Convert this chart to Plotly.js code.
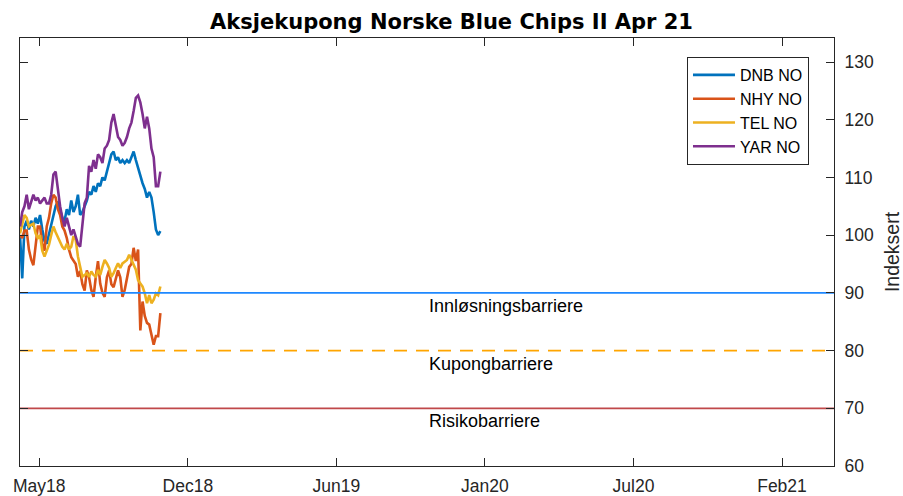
<!DOCTYPE html>
<html>
<head>
<meta charset="utf-8">
<script src="https://cdn.plot.ly/plotly-3.0.1.min.js"></script>
<style>html,body{margin:0;padding:0;background:#fff;}#chart{width:903px;height:496px;}</style>
</head>
<body>
<div id="chart"></div>
<script>
const dates = [
 '2018-04-20','2018-04-23','2018-04-26','2018-04-29','2018-05-02','2018-05-05','2018-05-08','2018-05-11','2018-05-14','2018-05-17',
 '2018-05-20','2018-05-23','2018-05-26','2018-05-29','2018-06-01','2018-06-04','2018-06-07','2018-06-10','2018-06-13','2018-06-16',
 '2018-06-19','2018-06-22','2018-06-25','2018-06-28','2018-07-01','2018-07-04','2018-07-07','2018-07-10','2018-07-13','2018-07-16',
 '2018-07-19','2018-07-22','2018-07-25','2018-07-28','2018-07-31','2018-08-03','2018-08-06','2018-08-09','2018-08-12','2018-08-15',
 '2018-08-18','2018-08-21','2018-08-24','2018-08-27','2018-08-30','2018-09-02','2018-09-05','2018-09-08','2018-09-11','2018-09-14',
 '2018-09-17','2018-09-20','2018-09-23','2018-09-26','2018-09-29','2018-10-02','2018-10-05','2018-10-08','2018-10-11','2018-10-14',
 '2018-10-17','2018-10-20','2018-10-23','2018-10-26'
];
const dnb = [
 100.0, 92.5, 101.5, 102.5, 101.0, 102.5, 101.5, 103.0, 102.0, 103.5,
 101.0, 99.0, 98.5, 100.0, 102.0, 103.5, 105.0, 105.8, 104.5, 103.0,
 102.5, 104.5, 103.5, 106.0, 104.0, 105.0, 107.0, 103.5, 104.0, 105.0,
 106.0, 107.5, 107.0, 108.5, 107.5, 109.0, 108.5, 110.0, 109.5, 111.0,
 112.5, 114.0, 114.5, 113.0, 113.5, 112.5, 113.0, 112.5, 113.0, 112.5,
 113.5, 114.5, 113.0, 111.5, 110.0, 109.0, 108.0, 106.5, 107.5, 106.5,
 104.0, 101.0, 100.0, 100.7
];
const nhy = [
 100.0, 99.5, 100.8, 100.8, 97.5, 95.8, 94.8, 98.5, 101.5, 101.5,
 98.5, 97.3, 101.5, 103.0, 105.5, 107.0, 106.5, 104.5, 103.5, 101.5,
 100.8, 99.5, 97.5, 96.2, 95.5, 95.0, 92.8, 93.8, 91.5, 90.4,
 93.9, 92.7, 90.5, 89.3, 92.7, 95.5, 91.6, 90.0, 89.3, 92.7,
 93.9, 91.5, 91.0, 92.7, 93.9, 92.7, 89.3, 90.5, 92.5, 94.5,
 95.0, 97.8, 95.5, 97.5, 83.5, 88.5, 86.0, 84.8, 84.5, 83.0,
 81.0, 82.5, 82.5, 86.5
];
const tel = [
 100.3, 102.0, 103.5, 103.0, 101.5, 101.8, 102.0, 100.3, 99.5, 100.0,
 97.3, 96.3, 97.5, 98.3, 100.0, 101.5, 100.5, 99.5, 98.8, 98.0,
 97.5, 98.5, 97.5, 98.0, 99.8, 99.2, 96.3, 94.5, 92.8, 93.1,
 93.4, 92.8, 93.7, 93.1, 92.8, 94.0, 93.1, 94.5, 95.7, 95.1,
 94.3, 92.8, 93.4, 94.3, 95.1, 94.3, 95.1, 95.4, 95.7, 96.6,
 95.7, 95.1, 94.0, 92.2, 91.6, 91.1, 89.9, 88.2, 89.6, 88.2,
 88.8, 89.9, 89.6, 91.1
];
const yar = [
 101.5, 104.0, 105.0, 107.0, 104.5, 106.0, 107.0, 106.0, 106.5, 105.5,
 106.0, 106.5, 105.5, 105.5, 107.0, 110.5, 111.0, 107.5, 105.0, 103.0,
 101.5, 103.0, 101.5, 100.0, 101.0, 99.5, 98.5, 98.0, 102.0, 105.5,
 106.5, 112.0, 111.0, 113.0, 111.5, 114.0, 113.5, 112.5, 115.0, 115.5,
 116.5, 119.5, 121.0, 119.0, 117.0, 116.5, 115.5, 116.0, 117.0, 118.5,
 119.5, 121.5, 123.8, 124.2, 123.0, 121.0, 118.5, 120.5, 118.5, 115.0,
 113.5, 108.5, 108.5, 111.0
];
const seriesNames = ['DNB NO', 'NHY NO', 'TEL NO', 'YAR NO'];
const seriesColors = ['#0072BD', '#D95319', '#EDB120', '#7E2F8E'];
const barrierLevels = [90, 80, 70];
const barrierNames = ['Innløsningsbarriere', 'Kupongbarriere', 'Risikobarriere'];
const barrierColors = ['#1E88FF', '#FFA500', '#C0484A'];
const barrierDash = ['solid', '13px,9px', 'solid'];
const xStart = '2018-04-20';
const xEnd = '2021-04-20';
const tickDates = ['2018-05-16', '2018-12-02', '2019-06-20', '2020-01-06', '2020-07-24', '2021-02-09'];
const tickLabels = ['May18', 'Dec18', 'Jun19', 'Jan20', 'Jul20', 'Feb21'];
const yTicks = [60, 70, 80, 90, 100, 110, 120, 130];
const yRange = [60, 134.16];

const FONT = 'Arial, "Liberation Sans", Helvetica, sans-serif';
const TITLE_FONT = '"DejaVu Sans", Arial, sans-serif';
const AX = '#262626';

const seriesData = [dnb, nhy, tel, yar];
const traces = seriesData.map((vals, k) => ({
  type: 'scatter', mode: 'lines', x: dates, y: vals, name: seriesNames[k],
  line: {color: seriesColors[k], width: 2.6}
}));
barrierLevels.forEach((lvl, k) => {
  traces.push({
    type: 'scatter', mode: 'lines', x: [xStart, xEnd], y: [lvl, lvl],
    showlegend: false, hoverinfo: 'skip',
    line: {color: barrierColors[k], width: 1.7, dash: barrierDash[k]}
  });
});

const annotations = barrierLevels.map((lvl, k) => ({
  xref: 'paper', yref: 'y', x: 0.5, y: lvl, xanchor: 'left', yanchor: 'top',
  yshift: -1, text: barrierNames[k], showarrow: false,
  font: {family: FONT, size: 18, color: '#000'}
}));

const layout = {
  width: 903, height: 496,
  margin: {l: 20, r: 69, t: 38, b: 30},
  paper_bgcolor: '#fff', plot_bgcolor: '#fff',
  font: {family: FONT, size: 17.5, color: AX},
  title: {text: '<b>Aksjekupong Norske Blue Chips II Apr 21</b>', xref: 'container', yref: 'container',
          x: 0.5, xanchor: 'center', y: 0.956, yanchor: 'middle',
          font: {family: TITLE_FONT, size: 21, color: '#000'}},
  xaxis: {
    type: 'date', range: [xStart, xEnd], tickmode: 'array', tickvals: tickDates, ticktext: tickLabels,
    showgrid: false, zeroline: false, showline: true, linecolor: AX, linewidth: 1,
    mirror: 'ticks', ticks: 'inside', ticklen: 8, tickcolor: AX, tickwidth: 1,
    tickfont: {family: FONT, size: 17.5, color: AX}, ticklabelstandoff: 4
  },
  yaxis: {
    side: 'right', range: yRange, tickmode: 'array', tickvals: yTicks,
    showgrid: false, zeroline: false, showline: true, linecolor: AX, linewidth: 1,
    mirror: 'ticks', ticks: 'inside', ticklen: 8, tickcolor: AX, tickwidth: 1,
    tickfont: {family: FONT, size: 17.5, color: AX}, ticklabelstandoff: 6,
    title: {text: 'Indeksert', font: {family: FONT, size: 19.5, color: AX}, standoff: 18}
  },
  legend: {
    x: 0.8194, y: 0.9556, xanchor: 'left', yanchor: 'top',
    bgcolor: '#fff', bordercolor: AX, borderwidth: 1, itemwidth: 42,
    font: {family: FONT, size: 16, color: '#000'}
  },
  annotations: annotations,
  showlegend: true
};

Plotly.newPlot('chart', traces, layout, {staticPlot: true, displayModeBar: false});
</script>
</body>
</html>
